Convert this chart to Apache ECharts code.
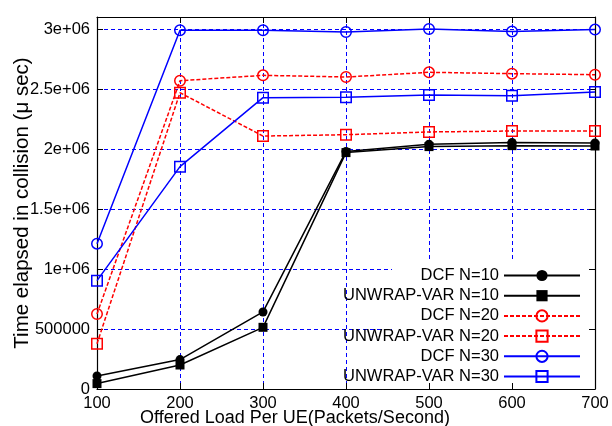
<!DOCTYPE html>
<html>
<head>
<meta charset="utf-8">
<script src="https://cdn.jsdelivr.net/npm/echarts@6/dist/echarts.min.js"></script>
<style>
html,body{margin:0;padding:0;background:#fff;}
#chart{width:612px;height:426px;}
</style>
</head>
<body>
<div id="chart"></div>
<script>
// ---- data ----
var loads = [100, 200, 300, 400, 500, 600, 700];
var dcf10    = [108000, 245000, 642000, 1980000, 2040000, 2055000, 2050000];
var unwrap10 = [45000, 200000, 514000, 1970000, 2020000, 2028000, 2025000];
var dcf20    = [625000, 2569000, 2614000, 2600000, 2639000, 2628000, 2619000];
var unwrap20 = [378000, 2469000, 2108000, 2119000, 2142000, 2150000, 2150000];
var dcf30    = [1211000, 2990000, 2990000, 2975000, 3000000, 2980000, 2995000];
var unwrap30 = [903000, 1853000, 2428000, 2431000, 2450000, 2444000, 2475000];
var seriesNames = ['DCF N=10', 'UNWRAP-VAR N=10', 'DCF N=20', 'UNWRAP-VAR N=20', 'DCF N=30', 'UNWRAP-VAR N=30'];
var xTickLabels = ['100', '200', '300', '400', '500', '600', '700'];
var yTickLabels = ['0', '500000', '1e+06', '1.5e+06', '2e+06', '2.5e+06', '3e+06'];
var xTitle = 'Offered Load Per UE(Packets/Second)';
var yTitle = 'Time elapsed in collision (\u03bc sec)';

function pairs(ys) { return ys.map(function (y, i) { return [loads[i], y]; }); }

var FONT = 'Liberation Sans';
var BLUE = '#0000ff', RED = '#ff0000', BLACK = '#000000';

var chart = echarts.init(document.getElementById('chart'), null, {renderer: 'canvas'});

function gridLineStyle(c) { return {color: c, width: 1, type: [4, 3], opacity: 1}; }
function frameLine() { return {show: true, onZero: false, lineStyle: {color: BLACK, width: 1.2}}; }
function tick() { return {show: true, inside: true, length: 6, lineStyle: {color: BLACK, width: 1}}; }

function xBase() { return {type: 'value', min: 100, max: 700, interval: 100}; }
function yBase() { return {type: 'value', min: 0, max: 3100000, interval: 500000}; }

function mk(base, extra) { return Object.assign(base, extra); }

function makeSeries(name, data, color, dashed, symbol, size, hollow) {
  return {
    name: name, type: 'line', data: pairs(data),
    xAxisIndex: 1, yAxisIndex: 1,
    symbol: symbol, symbolSize: size,
    showAllSymbol: true,
    lineStyle: {color: color, width: 1.5, type: dashed ? [4, 2] : 'solid'},
    itemStyle: hollow ? {color: 'rgba(255,255,255,0)', borderColor: color, borderWidth: 1.5}
                      : {color: color, borderColor: color, borderWidth: 0},
    color: color,
    emphasis: {disabled: true}
  };
}

var option = {
  animation: false,
  backgroundColor: '#ffffff',
  grid: {left: 97, right: 17, top: 17, bottom: 37, containLabel: false, outerBoundsMode: 'none'},
  xAxis: [
    mk(xBase(), {position: 'bottom', z: 0, axisLine: {show: false}, axisTick: {show: false}, axisLabel: {show: false},
      splitLine: {show: true, lineStyle: gridLineStyle(BLUE)}}),
    mk(xBase(), {position: 'bottom', z: 3, axisLine: frameLine(), axisTick: tick(), splitLine: {show: false},
      axisLabel: {show: true, margin: 6, color: BLACK, fontFamily: FONT, fontSize: 16.5,
        formatter: function (v, i) { return xTickLabels[i] !== undefined ? xTickLabels[i] : ''; }},
      name: xTitle, nameLocation: 'middle', nameGap: 20, nameMoveOverlap: false,
      nameTextStyle: {color: BLACK, fontFamily: FONT, fontSize: 18, padding: [0, 102, 0, 0]}}),
    mk(xBase(), {position: 'top', z: 3, axisLine: frameLine(), axisTick: tick(), axisLabel: {show: false}, splitLine: {show: false}})
  ],
  yAxis: [
    mk(yBase(), {position: 'left', z: 0, axisLine: {show: false}, axisTick: {show: false}, axisLabel: {show: false},
      splitLine: {show: true, lineStyle: gridLineStyle(BLUE)}}),
    mk(yBase(), {position: 'left', z: 3, axisLine: frameLine(), axisTick: tick(), splitLine: {show: false},
      axisLabel: {show: true, margin: 7, color: BLACK, fontFamily: FONT, fontSize: 16.5,
        formatter: function (v, i) { return yTickLabels[i] !== undefined ? yTickLabels[i] : ''; }},
      name: yTitle, nameLocation: 'middle', nameGap: 64, nameMoveOverlap: false,
      nameTextStyle: {color: BLACK, fontFamily: FONT, fontSize: 20.5}}),
    mk(yBase(), {position: 'right', z: 3, axisLine: frameLine(), axisTick: tick(), axisLabel: {show: false}, splitLine: {show: false}})
  ],
  legend: {
    orient: 'vertical', align: 'right', right: 31, top: 267, padding: 0,
    itemWidth: 76, itemHeight: 14, itemGap: 3.2,
    selectedMode: false,
    textStyle: {color: BLACK, fontFamily: FONT, fontSize: 16.5, lineHeight: 16.5},
    data: seriesNames
  },
  graphic: [{
    type: 'rect', z: 1, silent: true,
    shape: {x: 392, y: 262, width: 204, height: 126},
    style: {fill: '#ffffff'}
  }],
  series: [
    makeSeries(seriesNames[0], dcf10, BLACK, false, 'circle', 9, false),
    makeSeries(seriesNames[1], unwrap10, BLACK, false, 'rect', 9, false),
    makeSeries(seriesNames[2], dcf20, RED, true, 'circle', 10.5, true),
    makeSeries(seriesNames[3], unwrap20, RED, true, 'rect', 10.5, true),
    makeSeries(seriesNames[4], dcf30, BLUE, false, 'circle', 10.5, true),
    makeSeries(seriesNames[5], unwrap30, BLUE, false, 'rect', 10.5, true)
  ]
};
chart.setOption(option);
</script>
</body>
</html>
